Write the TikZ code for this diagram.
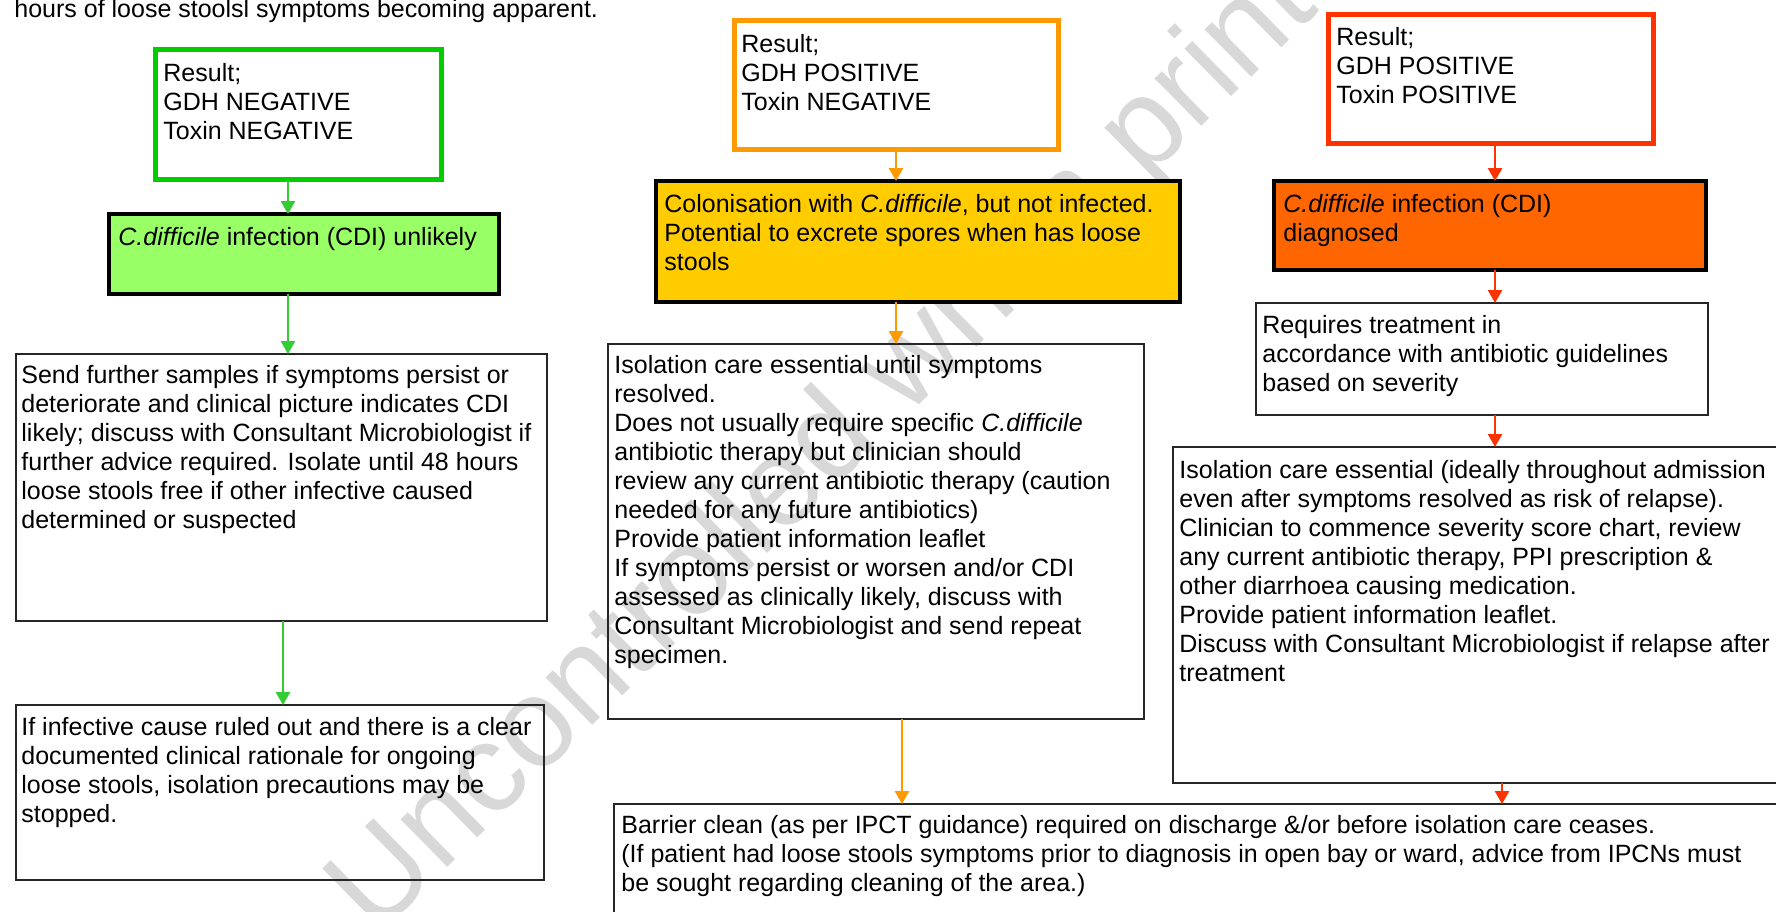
\documentclass[tikz,border=0pt]{standalone}
\usepackage{fontspec}
\setmainfont{Liberation Sans}
\usetikzlibrary{arrows.meta}
\definecolor{cgreen}{HTML}{00CC00}
\definecolor{cgreenarrow}{HTML}{33CC33}
\definecolor{clgreen}{HTML}{99FF66}
\definecolor{corange}{HTML}{FF9900}
\definecolor{cyellow}{HTML}{FFCC00}
\definecolor{cred}{HTML}{FF3300}
\definecolor{cdeep}{HTML}{FF6600}
\definecolor{cwater}{HTML}{D8D8D8}
\tikzset{
  box/.style={rectangle, outer sep=0pt, inner sep=0pt, anchor=north west},
  resbox/.style={box, line width=2.5pt},
  fillbox/.style={box, draw=black, line width=2pt},
  plainbox/.style={box, draw=black!85, line width=0.8pt},
  txt/.style={anchor=north west, inner sep=0pt, align=left, text=black,
              font=\fontsize{12.5}{14.5}\selectfont},
  arr/.style={line width=1.3pt, -{Triangle[length=6.5pt,width=7pt]}},
  wmark/.style={rotate=44.5, text=cwater, inner sep=0pt,
              font=\fontsize{63}{70}\selectfont},
}
\begin{document}
\begin{tikzpicture}[x=0.5pt, y=-0.5pt]
\useasboundingbox (0,0) rectangle (1776,911);
\clip (0,0) rectangle (1776,911);

% watermark
\node[wmark] (wm) at (876,401) {Uncontrolled when printed};

% top line of preceding paragraph
\node[txt] (top) at (14,-3.3) {\strut hours of loose stoolsl symptoms becoming apparent.};

% green column
\node[resbox, draw=cgreen, minimum width={286*0.5pt}, minimum height={130*0.5pt}] (g1) at (155.5,49.5) {};
\node[fillbox, fill=clgreen, minimum width={390*0.5pt}, minimum height={80*0.5pt}] (g2) at (109,214) {};
\node[plainbox, minimum width={531*0.5pt}, minimum height={267*0.5pt}] (g3) at (16,354) {};
\node[plainbox, minimum width={528*0.5pt}, minimum height={175*0.5pt}] (g4) at (16,705) {};

\node[txt] (g1t) at (163,60.7) {\strut Result;\\GDH NEGATIVE\\Toxin NEGATIVE};
\node[txt] (g2t) at (118,224.7) {\strut\textit{C.difficile} infection (CDI) unlikely};
\node[txt] (g3t) at (21,362.7) {\strut Send further samples if symptoms persist or\\
deteriorate and clinical picture indicates CDI\\
likely; discuss with Consultant Microbiologist if\\
further advice required. Isolate until 48 hours\\
loose stools free if other infective caused\\
determined or suspected};
\node[txt] (g4t) at (21,714.7) {\strut If infective cause ruled out and there is a clear\\
documented clinical rationale for ongoing\\
loose stools, isolation precautions may be\\
stopped.};

% orange column
\node[resbox, draw=corange, minimum width={324*0.5pt}, minimum height={129*0.5pt}] (o1) at (734.5,20.5) {};
\node[fillbox, fill=cyellow, minimum width={524*0.5pt}, minimum height={121*0.5pt}] (o2) at (656,181) {};
\node[plainbox, minimum width={536*0.5pt}, minimum height={375*0.5pt}] (o3) at (608,344) {};

\node[txt] (o1t) at (741,31.7) {\strut Result;\\GDH POSITIVE\\Toxin NEGATIVE};
\node[txt] (o2t) at (664,191.7) {\strut Colonisation with \textit{C.difficile}, but not infected.\\
Potential to excrete spores when has loose\\
stools};
\node[txt] (o3t) at (614,352.7) {\strut Isolation care essential until symptoms\\
resolved.\\
Does not usually require specific \textit{C.difficile}\\
antibiotic therapy but clinician should\\
review any current antibiotic therapy (caution\\
needed for any future antibiotics)\\
Provide patient information leaflet\\
If symptoms persist or worsen and/or CDI\\
assessed as clinically likely, discuss with\\
Consultant Microbiologist and send repeat\\
specimen.};

% red column
\node[resbox, draw=cred, minimum width={325*0.5pt}, minimum height={129*0.5pt}] (r1) at (1328.5,14.5) {};
\node[fillbox, fill=cdeep, minimum width={432*0.5pt}, minimum height={89*0.5pt}] (r2) at (1274,181) {};
\node[plainbox, minimum width={452*0.5pt}, minimum height={112*0.5pt}] (r3) at (1256,303) {};
\node[plainbox, minimum width={640*0.5pt}, minimum height={336*0.5pt}] (r4) at (1173,447) {};

\node[txt] (r1t) at (1336,24.7) {\strut Result;\\GDH POSITIVE\\Toxin POSITIVE};
\node[txt] (r2t) at (1283,191.7) {\strut\textit{C.difficile} infection (CDI)\\diagnosed};
\node[txt] (r3t) at (1262,312.7) {\strut Requires treatment in\\
accordance with antibiotic guidelines\\
based on severity};
\node[txt] (r4t) at (1179,457.7) {\strut Isolation care essential (ideally throughout admission\\
even after symptoms resolved as risk of relapse).\\
Clinician to commence severity score chart, review\\
any current antibiotic therapy, PPI prescription \&\\
other diarrhoea causing medication.\\
Provide patient information leaflet.\\
Discuss with Consultant Microbiologist if relapse after\\
treatment};

% bottom box
\node[plainbox, minimum width={1200*0.5pt}, minimum height={150*0.5pt}] (b) at (614,804) {};
\node[txt] (bt) at (621,812.7) {\strut Barrier clean (as per IPCT guidance) required on discharge \&/or before isolation care ceases.\\
(If patient had loose stools symptoms prior to diagnosis in open bay or ward, advice from IPCNs must\\
be sought regarding cleaning of the area.)};

% connector columns
\coordinate (ga) at (288,0);
\coordinate (gb) at (283,0);
\coordinate (oa) at (896,0);
\coordinate (ob) at (902,0);
\coordinate (ra) at (1495,0);
\coordinate (rb) at (1502,0);

\draw[arr, draw=cgreenarrow, fill=cgreenarrow] (g1.south -| ga) -- (g2.north -| ga);
\draw[arr, draw=cgreenarrow, fill=cgreenarrow] (g2.south -| ga) -- (g3.north -| ga);
\draw[arr, draw=cgreenarrow, fill=cgreenarrow] (g3.south -| gb) -- (g4.north -| gb);

\draw[arr, draw=corange, fill=corange] (o1.south -| oa) -- (o2.north -| oa);
\draw[arr, draw=corange, fill=corange] (o2.south -| oa) -- (o3.north -| oa);
\draw[arr, draw=corange, fill=corange] (o3.south -| ob) -- (b.north -| ob);

\draw[arr, draw=cred, fill=cred] (r1.south -| ra) -- (r2.north -| ra);
\draw[arr, draw=cred, fill=cred] (r2.south -| ra) -- (r3.north -| ra);
\draw[arr, draw=cred, fill=cred] (r3.south -| ra) -- (r4.north -| ra);
\draw[arr, draw=cred, fill=cred] (r4.south -| rb) -- (b.north -| rb);
\end{tikzpicture}
\end{document}
